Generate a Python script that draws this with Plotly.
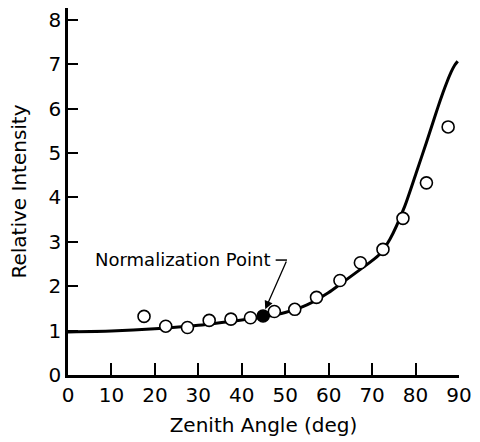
import plotly.graph_objects as go

# Measured points (zenith angle in deg, relative intensity)
obs_angle = [17.5, 22.5, 27.5, 32.5, 37.5, 42.0, 47.5, 52.2, 57.2, 62.6, 67.3, 72.5, 77.1, 82.5, 87.5]
obs_value = [1.32, 1.10, 1.07, 1.23, 1.26, 1.29, 1.43, 1.48, 1.75, 2.13, 2.53, 2.83, 3.53, 4.33, 5.59]

# Normalization point
norm_angle = [44.9]
norm_value = [1.33]

# Theoretical curve
curve_angle = [0, 10, 20, 30, 40, 45, 50, 55, 60, 62.7, 67.3, 71.5, 74.1, 77.5, 80.2, 82.5,
               84.0, 85.1, 86.3, 87.3, 88.2, 89.0, 89.7]
curve_value = [0.97, 0.99, 1.04, 1.12, 1.24, 1.31, 1.41, 1.58, 1.86, 2.05, 2.38, 2.70, 3.06, 3.80,
               4.57, 5.24, 5.69, 6.02, 6.36, 6.62, 6.83, 6.98, 7.07]

x_ticks = [0, 10, 20, 30, 40, 50, 60, 70, 80, 90]
y_ticks = [0, 1, 2, 3, 4, 5, 6, 7, 8]

FONT = "DejaVu Sans"

fig = go.Figure()
fig.add_trace(go.Scatter(x=curve_angle, y=curve_value, mode="lines",
                         line=dict(color="black", width=3, shape="spline", smoothing=0.6),
                         hoverinfo="skip", showlegend=False))
fig.add_trace(go.Scatter(x=obs_angle, y=obs_value, mode="markers",
                         marker=dict(symbol="circle", size=12, color="white",
                                     line=dict(color="black", width=1.6)),
                         showlegend=False))
fig.add_trace(go.Scatter(x=norm_angle, y=norm_value, mode="markers",
                         marker=dict(symbol="circle", size=12, color="black",
                                     line=dict(color="black", width=1.6)),
                         showlegend=False))

fig.add_annotation(x=5.7, y=2.61, xref="x", yref="y", text="Normalization Point",
                   showarrow=False, xanchor="left", yanchor="middle",
                   font=dict(family=FONT, size=18, color="black"))
fig.add_shape(type="line", xref="x", yref="y", x0=47.8, y0=2.59, x1=50.4, y1=2.59,
              line=dict(color="black", width=1.5))
fig.add_annotation(x=45.4, y=1.48, xref="x", yref="y", ax=50.4, ay=2.59,
                   axref="x", ayref="y", text="", showarrow=True,
                   arrowhead=2, arrowsize=1.3, arrowwidth=1.3, arrowcolor="black")

fig.update_xaxes(range=[0, 90], tickvals=x_ticks, ticks="inside", ticklen=12, tickwidth=1.5,
                 tickcolor="black", showline=True, linecolor="black", linewidth=2.5,
                 showgrid=False, zeroline=False,
                 tickfont=dict(family=FONT, size=20, color="black"),
                 title=dict(text="Zenith Angle (deg)", font=dict(family=FONT, size=20, color="black"),
                            standoff=13))
fig.update_yaxes(range=[0, 8.27], tickvals=y_ticks, ticks="inside", ticklen=10, tickwidth=1.5,
                 tickcolor="black", showline=True, linecolor="black", linewidth=2.5,
                 showgrid=False, zeroline=False,
                 tickfont=dict(family=FONT, size=20, color="black"),
                 title=dict(text="Relative Intensity", font=dict(family=FONT, size=20, color="black"),
                            standoff=17))

fig.update_layout(width=480, height=442, margin=dict(l=68, r=17, t=8, b=66),
                  plot_bgcolor="white", paper_bgcolor="white",
                  font=dict(family=FONT, color="black"))

fig.write_html("out.html")
